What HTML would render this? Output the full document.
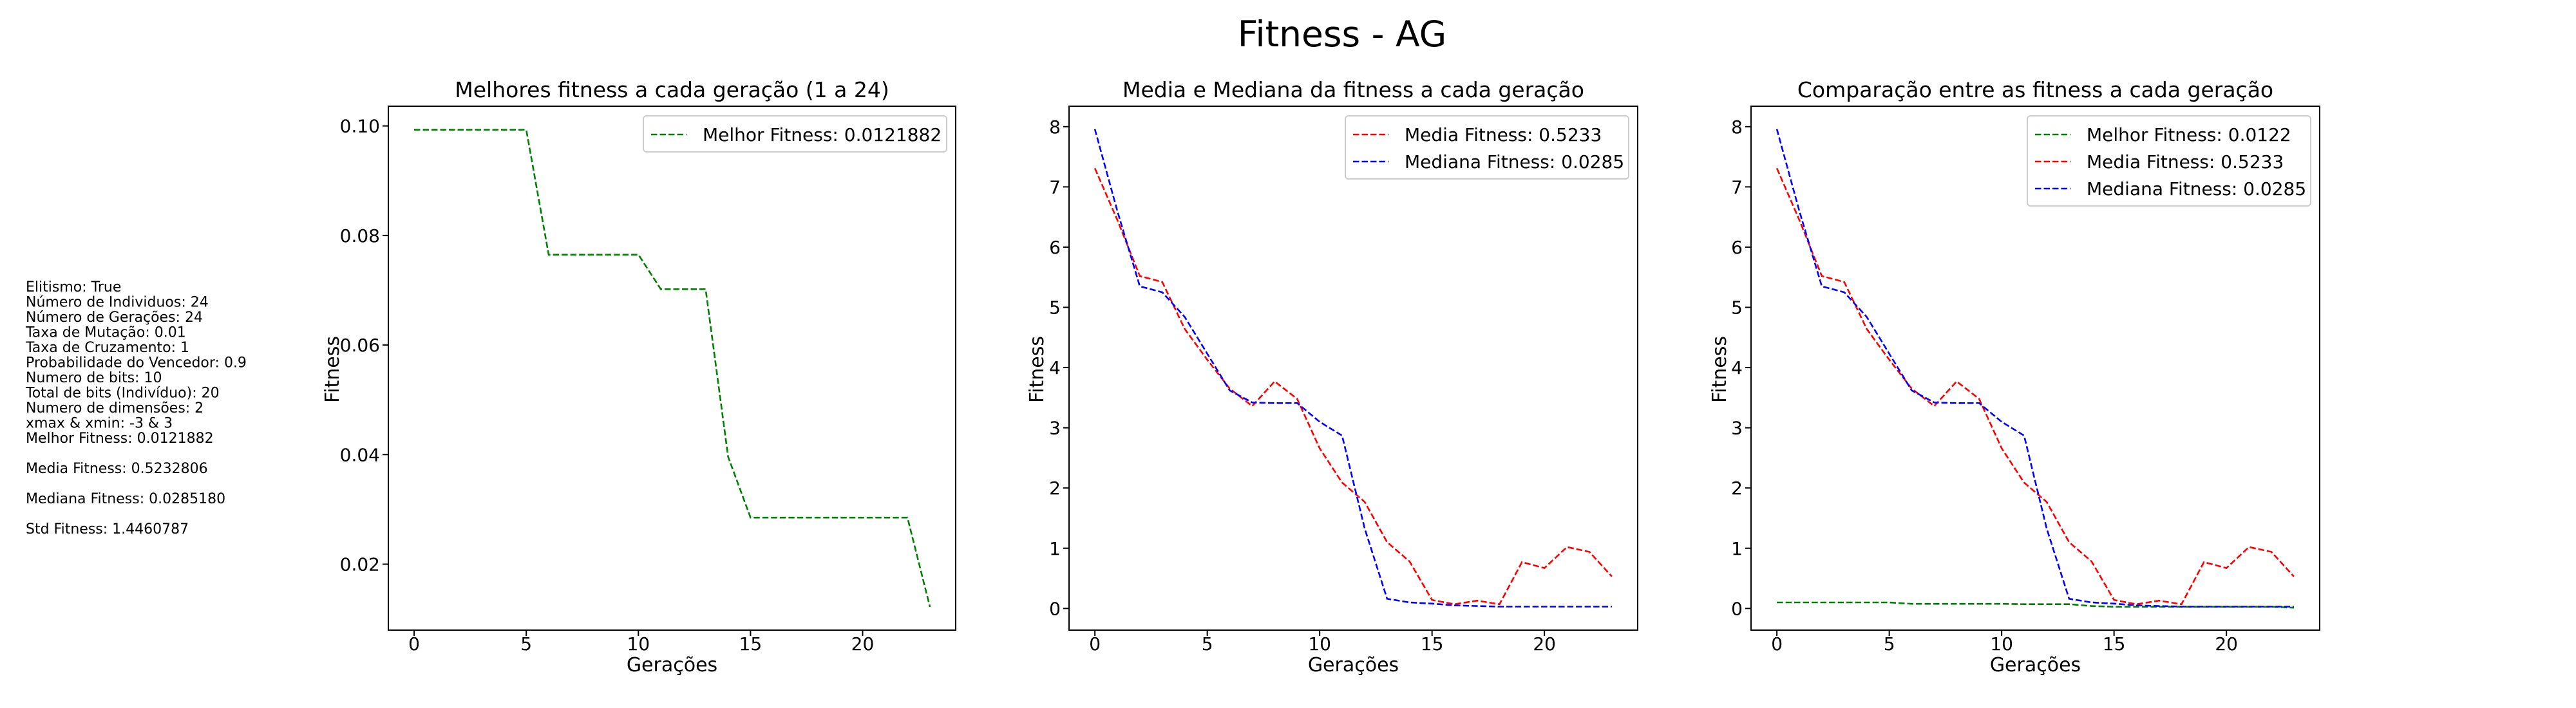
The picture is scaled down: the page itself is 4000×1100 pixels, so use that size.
<!DOCTYPE html>
<html><head><meta charset="utf-8">
<style>
html,body{margin:0;padding:0;background:#fff;}
svg{display:block;font-family:"DejaVu Sans","Liberation Sans",sans-serif;}
.side{font-size:22px;fill:#000;}
</style></head>
<body>
<svg id="fig" width="4000" height="1100" viewBox="0 0 4000 1100" xmlns="http://www.w3.org/2000/svg">
<rect width="4000" height="1100" fill="#fff"/>
<text x="2084" y="72" font-size="55" text-anchor="middle">Fitness - AG</text>
<g class="side">
<text x="40" y="453">Elitismo: True</text>
<text x="40" y="476.5">Número de Individuos: 24</text>
<text x="40" y="500">Número de Gerações: 24</text>
<text x="40" y="523.5">Taxa de Mutação: 0.01</text>
<text x="40" y="547">Taxa de Cruzamento: 1</text>
<text x="40" y="570.5">Probabilidade do Vencedor: 0.9</text>
<text x="40" y="594">Numero de bits: 10</text>
<text x="40" y="617.5">Total de bits (Indivíduo): 20</text>
<text x="40" y="641">Numero de dimensões: 2</text>
<text x="40" y="664.5">xmax &amp; xmin: -3 &amp; 3</text>
<text x="40" y="688">Melhor Fitness: 0.0121882</text>
<text x="40" y="735">Media Fitness: 0.5232806</text>
<text x="40" y="782">Mediana Fitness: 0.0285180</text>
<text x="40" y="829">Std Fitness: 1.4460787</text>
</g>
<g id="charts"></g>
</svg>
<script>
const generations = [0,1,2,3,4,5,6,7,8,9,10,11,12,13,14,15,16,17,18,19,20,21,22,23];
const bestFitness = [0.0993,0.0993,0.0993,0.0993,0.0993,0.0993,0.0765,0.0765,0.0765,0.0765,0.0765,0.0702,0.0702,0.0702,0.0396,0.0285,0.0285,0.0285,0.0285,0.0285,0.0285,0.0285,0.0285,0.0122];
const meanFitness = [7.31,6.45,5.52,5.42,4.64,4.13,3.65,3.36,3.77,3.48,2.66,2.09,1.77,1.10,0.78,0.14,0.07,0.13,0.07,0.77,0.67,1.02,0.94,0.53];
const medianFitness = [7.96,6.60,5.35,5.25,4.84,4.23,3.62,3.42,3.41,3.41,3.10,2.87,1.33,0.16,0.10,0.08,0.05,0.04,0.03,0.03,0.03,0.03,0.03,0.03];
const xTicks = [0,5,10,15,20];
const yTicks1 = [0.02,0.04,0.06,0.08,0.10];
const yTickLabels1 = ["0.02","0.04","0.06","0.08","0.10"];
const yTicks2 = [0,1,2,3,4,5,6,7,8];
const titles = ["Melhores fitness a cada geração (1 a 24)","Media e Mediana da fitness a cada geração","Comparação entre as fitness a cada geração"];

const NS="http://www.w3.org/2000/svg";
const root=document.getElementById('charts');
function mk(tag,attrs,parent){const e=document.createElementNS(NS,tag);for(const k in attrs)e.setAttribute(k,attrs[k]);parent.appendChild(e);return e;}

function chart(idx,left,right,ymin,ymax,yt,ytl,series,legendW,ylabX){
  const top=165,bottom=979;
  const g=mk('g',{},root);
  
  
  const xmin=-1.15,xmax=24.15;
  const sx=v=>left+(v-xmin)/(xmax-xmin)*(right-left);
  const sy=v=>bottom-(v-ymin)/(ymax-ymin)*(bottom-top);
  const t=mk('text',{x:(left+right)/2,y:151,'font-size':33,'text-anchor':'middle'},g);
  t.textContent=titles[idx];
  
  
  xTicks.forEach(v=>{
    const x=sx(v);
    mk('line',{x1:x,x2:x,y1:bottom,y2:bottom+9,stroke:'#000','stroke-width':2},g);
    const l=mk('text',{x:x,y:1010,'font-size':28,'text-anchor':'middle'},g);
    l.textContent=v;
    
    
  });
  yt.forEach((v,i)=>{
    const y=sy(v);
    mk('line',{x1:left-9,x2:left,y1:y,y2:y,stroke:'#000','stroke-width':2},g);
    const l=mk('text',{x:left-13,y:y+10,'font-size':28,'text-anchor':'end'},g);
    l.textContent=ytl?ytl[i]:v;
    
    
  });
  const xl=mk('text',{x:(left+right)/2,y:1043,'font-size':30,'text-anchor':'middle'},g);
  xl.textContent='Gerações';
  
  
  const yl=mk('text',{x:0,y:0,'font-size':30,'text-anchor':'middle',transform:`translate(${ylabX},574) rotate(-90)`},g);
  yl.textContent='Fitness';
  
  
  series.forEach(s=>{
    const d=generations.map((gx,i)=>(i?'L':'M')+sx(gx).toFixed(1)+','+sy(s.values[i]).toFixed(1)).join(' ');
    const p=mk('path',{d:d,fill:'none',stroke:s.color,'stroke-width':2.6,'stroke-dasharray':'9.5,4'},g);
    
    
  });
  mk('rect',{x:left,y:top,width:right-left,height:bottom-top,fill:'none',stroke:'#000','stroke-width':2},g);
  const lx=right-14-legendW, ly=180, rowH=42;
  const lg=mk('g',{},g);
  
  
  mk('rect',{x:lx,y:ly,width:legendW,height:14+rowH*series.length,rx:5,fill:'#fff','fill-opacity':0.8,stroke:'#ccc','stroke-width':2},lg);
  series.forEach((s,i)=>{
    const cy=ly+29+i*rowH;
    mk('line',{x1:lx+12,x2:lx+67,y1:cy,y2:cy,stroke:s.color,'stroke-width':2.6,'stroke-dasharray':'9.5,4'},lg);
    const tx=mk('text',{x:lx+92,y:cy+10,'font-size':28},lg);
    tx.textContent=s.label;
    
    
  });
}
chart(0,603,1484,0.00796,0.1036,yTicks1,yTickLabels1,
  [{name:'best-fitness-line',color:'#008000',values:bestFitness,label:'Melhor Fitness: 0.0121882'}],471,526);
chart(1,1660,2543,-0.36,8.34,yTicks2,null,
  [{name:'mean-fitness-line',color:'#ff0000',values:meanFitness,label:'Media Fitness: 0.5233'},
   {name:'median-fitness-line',color:'#0000ff',values:medianFitness,label:'Mediana Fitness: 0.0285'}],440,1620);
chart(2,2719,3602,-0.36,8.34,yTicks2,null,
  [{name:'best-fitness-line',color:'#008000',values:bestFitness,label:'Melhor Fitness: 0.0122'},
   {name:'mean-fitness-line',color:'#ff0000',values:meanFitness,label:'Media Fitness: 0.5233'},
   {name:'median-fitness-line',color:'#0000ff',values:medianFitness,label:'Mediana Fitness: 0.0285'}],440,2680);
</script>
</body></html>
